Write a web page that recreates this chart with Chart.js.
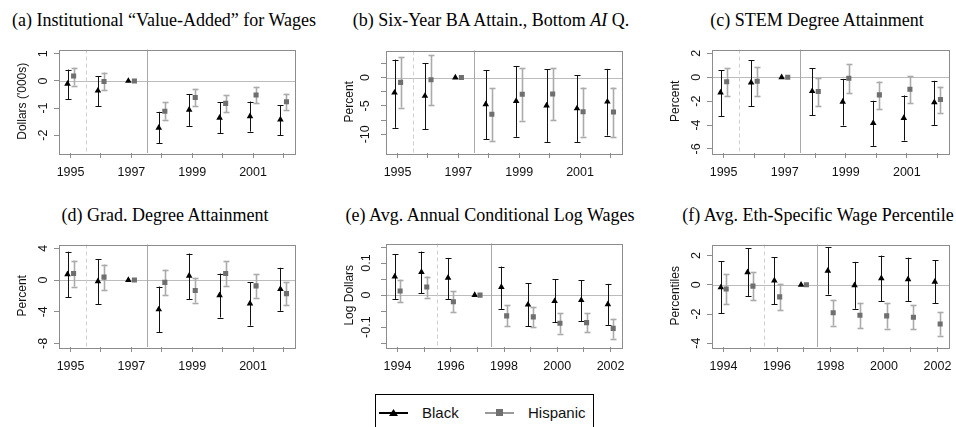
<!DOCTYPE html>
<html>
<head>
<meta charset="utf-8">
<script src="https://cdn.jsdelivr.net/npm/chart.js@4.4.1/dist/chart.umd.min.js"></script>
<style>
  body { margin: 0; width: 956px; height: 427px; overflow: hidden; background: #fff; position: relative; }
  canvas { position: absolute; }
  .ttl { position: absolute; font: 18px "Liberation Serif", "Times New Roman", serif; line-height: 20px;
         white-space: nowrap; transform: translateX(-50%); color: #000; }
  .lg { position: absolute; }
  .lg-txt { position: absolute; font: 15px "Liberation Sans", Arial, sans-serif; line-height: 18px; color: #111; }
</style>
</head>
<body>

<div class="ttl" style="left:164px;top:10px">(a) Institutional “Value-Added” for Wages</div>
<div class="ttl" style="left:491px;top:10px">(b) Six-Year BA Attain., Bottom <i>AI</i> Q.</div>
<div class="ttl" style="left:817px;top:10px">(c) STEM Degree Attainment</div>
<div class="ttl" style="left:165px;top:205px">(d) Grad. Degree Attainment</div>
<div class="ttl" style="left:490px;top:205px">(e) Avg. Annual Conditional Log Wages</div>
<div class="ttl" style="left:818px;top:205px">(f) Avg. Eth-Specific Wage Percentile</div>

<canvas id="pa"></canvas>
<canvas id="pb"></canvas>
<canvas id="pc"></canvas>
<canvas id="pd"></canvas>
<canvas id="pe"></canvas>
<canvas id="pf"></canvas>

<!-- legend -->
<div class="lg" style="left:375px;top:394px;width:217px;height:44px;border:1.5px solid #000"></div>
<div class="lg" style="left:379px;top:412px;width:29px;height:1.5px;background:#000"></div>
<div class="lg" style="left:389px;top:409px;width:9px;height:7px;background:#000;clip-path:polygon(50% 0,100% 100%,0 100%)"></div>
<span class="lg-txt" style="left:422px;top:404px">Black</span>
<div class="lg" style="left:485px;top:412px;width:29px;height:1.5px;background:#9a9a9a"></div>
<div class="lg" style="left:496px;top:409px;width:7px;height:7px;background:#707070"></div>
<span class="lg-txt" style="left:528px;top:404px">Hispanic</span>

<script>
// years and tick labels
const yearsAD = [1995, 1996, 1997, 1998, 1999, 2000, 2001, 2002];
const yearsEF = [1994, 1995, 1996, 1997, 1998, 1999, 2000, 2001, 2002];
const xLabelsAD = ["1995", "", "1997", "", "1999", "", "2001", ""];
const xLabelsEF = ["1994", "", "1996", "", "1998", "", "2000", "", "2002"];

// (a) value-added for wages
const aBlack   = [-0.11, -0.36, 0, -1.73, -1.07, -1.36, -1.31, -1.43];
const aBlackLo = [-0.68, -0.94, null, -2.30, -1.66, -1.94, -1.87, -2.00];
const aBlackHi = [0.42, 0.18, null, -1.14, -0.49, -0.78, -0.76, -0.90];
const aHisp    = [0.18, -0.02, 0, -1.12, -0.61, -0.83, -0.52, -0.77];
const aHispLo  = [-0.17, -0.34, null, -1.43, -0.94, -1.15, -0.82, -1.07];
const aHispHi  = [0.49, 0.31, null, -0.79, -0.29, -0.52, -0.22, -0.47];
const aTicks = [-2, -1, 0, 1];
const aTickLabels = ["-2", "-1", "0", "1"];
const aRange = [-2.66, 1.16];

// (b) six-year BA attainment
const bBlack   = [-2.67, -3.24, 0, -4.72, -4.15, -4.94, -5.45, -4.26];
const bBlackLo = [-8.86, -9.09, null, -10.85, -10.45, -11.36, -11.36, -10.23];
const bBlackHi = [3.18, 2.56, null, 1.31, 2.05, 1.48, 0.40, 1.53];
const bHisp    = [-0.85, -0.40, 0, -6.48, -2.95, -2.90, -6.02, -6.08];
const bHispLo  = [-5.28, -4.89, null, -11.2, -7.6, -7.5, -10.4, -10.45];
const bHispHi  = [3.58, 3.98, null, -1.88, 1.65, 1.70, -1.76, -1.76];
const bTicks = [-10, -7.5, -5, -2.5, 0, 2.5];
const bTickLabels = ["-10", "", "-5", "", "0", ""];
const bRange = [-13.3, 4.77];

// (c) STEM degree
const cBlack   = [-1.28, -0.44, 0, -1.17, -2.05, -3.83, -3.42, -2.10];
const cBlackLo = [-3.25, -2.43, null, -3.17, -4.04, -5.74, -5.30, -3.99];
const cBlackHi = [0.60, 1.42, null, 0.77, -0.14, -1.97, -1.53, -0.30];
const cHisp    = [-0.38, -0.33, 0, -1.20, -0.08, -1.48, -1.01, -1.86];
const cHispLo  = [-1.61, -1.56, null, -2.43, -1.34, -2.65, -2.16, -2.98];
const cHispHi  = [0.77, 0.82, null, -0.05, 1.07, -0.36, 0.11, -0.79];
const cTicks = [-6, -4, -2, 0, 2];
const cTickLabels = ["-6", "-4", "-2", "0", "2"];
const cRange = [-6.34, 2.32];

// (d) grad degree
const dBlack   = [0.73, -0.16, 0, -3.71, 0.53, -1.92, -2.98, -1.14];
const dBlackLo = [-2.16, -3.06, null, -6.61, -2.45, -4.73, -5.76, -3.88];
const dBlackHi = [3.59, 2.65, null, -0.82, 3.35, 0.82, -0.29, 1.55];
const dHisp    = [0.82, 0.37, 0, -0.29, -1.31, 0.82, -0.73, -1.71];
const dHispLo  = [-0.82, -1.31, null, -1.92, -2.86, -0.73, -2.24, -3.18];
const dHispHi  = [2.45, 1.96, null, 1.31, 0.29, 2.37, 0.73, -0.29];
const dTicks = [-8, -4, 0, 4];
const dTickLabels = ["-8", "-4", "0", "4"];
const dRange = [-8.45, 4.49];

// (e) log wages
const eBlack   = [0.058, 0.072, 0.054, 0, 0.025, -0.030, -0.019, -0.016, -0.029];
const eBlackLo = [-0.012, 0.005, -0.012, null, -0.043, -0.098, -0.085, -0.081, -0.093];
const eBlackHi = [0.128, 0.136, 0.116, null, 0.089, 0.037, 0.049, 0.046, 0.035];
const eHisp    = [0.013, 0.025, -0.021, 0, -0.065, -0.068, -0.088, -0.086, -0.104];
const eHispLo  = [-0.023, -0.008, -0.054, null, -0.098, -0.101, -0.120, -0.116, -0.136];
const eHispHi  = [0.048, 0.058, 0.012, null, -0.032, -0.037, -0.056, -0.056, -0.074];
const eTicks = [-0.15, -0.1, -0.05, 0, 0.05, 0.1, 0.15];
const eTickLabels = ["", "-0.1", "", "0", "", "0.1", ""];
const eRange = [-0.162, 0.161];

// (f) wage percentile
const fBlack   = [-0.18, 0.85, 0.29, 0, 0.96, -0.04, 0.45, 0.38, 0.20];
const fBlackLo = [-1.95, -0.78, -1.32, null, -0.67, -1.64, -1.12, -1.14, -1.28];
const fBlackHi = [1.61, 2.51, 1.88, null, 2.56, 1.57, 2.00, 1.86, 1.68];
const fHisp    = [-0.29, -0.09, -0.83, 0, -1.91, -2.09, -2.13, -2.22, -2.69];
const fHispLo  = [-1.32, -1.05, -1.75, null, -2.80, -2.96, -3.00, -3.03, -3.48];
const fHispHi  = [0.74, 0.85, 0.07, null, -1.03, -1.23, -1.28, -1.39, -1.88];
const fTicks = [-4, -2, 0, 2];
const fTickLabels = ["-4", "-2", "0", "2"];
const fRange = [-4.26, 2.76];

const xRangeAD = [1994.62, 2002.38];
const xRangeEF = [1993.57, 2002.43];

const SANS = '"Liberation Sans", Arial, sans-serif';
const AXW = 50, AXH = 30, PADT = 10, PADR = 20;

function drawLine(ctx, x1, y1, x2, y2) {
  ctx.beginPath();
  ctx.moveTo(x1, y1);
  ctx.lineTo(x2, y2);
  ctx.stroke();
}

function makePanel(id, box, p) {
  const [L, T, R, B] = box;
  const cv = document.getElementById(id);
  cv.width = R - L + AXW + PADR;
  cv.height = B - T + PADT + AXH;
  cv.style.left = (L - AXW) + "px";
  cv.style.top = (T - PADT) + "px";

  const guides = {
    id: "guides",
    beforeDatasetsDraw(chart) {
      const { ctx, chartArea: a, scales: { x, y } } = chart;
      ctx.save();
      ctx.lineWidth = 1;
      // zero line
      const y0 = Math.round(y.getPixelForValue(0)) + 0.5;
      ctx.strokeStyle = "#bcbcbc";
      drawLine(ctx, a.left, y0, a.right, y0);
      // solid break line
      const xs = Math.round(x.getPixelForValue(1997.5)) + 0.5;
      ctx.strokeStyle = "#a8a8a8";
      drawLine(ctx, xs, a.top, xs, a.bottom);
      // dashed line
      const xd = Math.round(x.getPixelForValue(1995.5)) + 0.5;
      ctx.strokeStyle = "#cfcfcf";
      ctx.setLineDash([4, 3]);
      drawLine(ctx, xd, a.top, xd, a.bottom);
      ctx.setLineDash([]);

      // error bars
      const bars = (off, lo, hi, color, w, cap) => {
        ctx.strokeStyle = color;
        ctx.lineWidth = w;
        p.years.forEach((yr, i) => {
          if (lo[i] == null) return;
          const px = Math.round(x.getPixelForValue(yr + off)) + 0.5;
          const pl = y.getPixelForValue(lo[i]);
          const ph = y.getPixelForValue(hi[i]);
          drawLine(ctx, px, pl, px, ph);
          drawLine(ctx, px - cap, Math.round(pl) + 0.5, px + cap, Math.round(pl) + 0.5);
          drawLine(ctx, px - cap, Math.round(ph) + 0.5, px + cap, Math.round(ph) + 0.5);
        });
      };
      bars(0.1, p.hispLo, p.hispHi, "#ababab", 1.6, 3);
      bars(-0.1, p.blackLo, p.blackHi, "#111", 1, 3);
      ctx.restore();
    },
    afterDraw(chart) {
      const { ctx, chartArea: a } = chart;
      ctx.save();
      ctx.strokeStyle = "#8c8c8c";
      ctx.lineWidth = 1;
      ctx.strokeRect(Math.round(a.left) + 0.5, Math.round(a.top) + 0.5,
        Math.round(a.right - a.left), Math.round(a.bottom - a.top));
      ctx.restore();
    }
  };

  new Chart(cv, {
    type: "scatter",
    data: {
      datasets: [
        {
          label: "Hispanic",
          data: p.years.map((yr, i) => ({ x: yr + 0.1, y: p.hisp[i] })),
          pointStyle: "rect",
          pointRadius: 3.6,
          backgroundColor: "#6f6f6f",
          borderWidth: 0,
        },
        {
          label: "Black",
          data: p.years.map((yr, i) => ({ x: yr - 0.1, y: p.black[i] })),
          pointStyle: "triangle",
          pointRadius: 3.8,
          backgroundColor: "#000",
          borderWidth: 0,
        },
      ],
    },
    options: {
      responsive: false,
      animation: false,
      devicePixelRatio: 1,
      layout: { padding: { top: PADT, right: PADR, left: 0, bottom: 0 } },
      plugins: { legend: { display: false }, tooltip: { enabled: false } },
      scales: {
        x: {
          type: "linear",
          min: p.xRange[0],
          max: p.xRange[1],
          afterBuildTicks: (s) => { s.ticks = p.years.map((v) => ({ value: v })); },
          afterFit: (s) => { s.height = AXH; },
          border: { display: false },
          grid: { drawOnChartArea: false, drawTicks: true, tickLength: 5, tickColor: "#8c8c8c" },
          ticks: {
            autoSkip: false, maxRotation: 0, padding: 7, color: "#111",
            font: { family: SANS, size: 12.5 },
            callback: (v, i) => p.xLabels[i],
          },
        },
        y: {
          min: p.yRange[0],
          max: p.yRange[1],
          afterBuildTicks: (s) => { s.ticks = p.yTicks.map((v) => ({ value: v })); },
          afterFit: (s) => { s.width = AXW; },
          border: { display: false },
          grid: { drawOnChartArea: false, drawTicks: true, tickLength: 5, tickColor: "#8c8c8c" },
          ticks: {
            autoSkip: false, minRotation: 90, maxRotation: 90, crossAlign: "center",
            padding: p.tickPad, color: "#111",
            font: { family: SANS, size: 12.5 },
            callback: (v, i) => p.yLabels[i],
          },
          title: {
            display: true, text: p.yTitle, color: "#111",
            padding: { top: 6, bottom: 0 },
            font: { family: SANS, size: 12 },
          },
        },
      },
    },
    plugins: [guides],
  });
}

makePanel("pa", [59, 47, 295, 153], {
  years: yearsAD, xLabels: xLabelsAD, xRange: xRangeAD, yRange: aRange,
  yTicks: aTicks, yLabels: aTickLabels, yTitle: "Dollars ('000s)", tickPad: 5,
  black: aBlack, blackLo: aBlackLo, blackHi: aBlackHi, hisp: aHisp, hispLo: aHispLo, hispHi: aHispHi,
});
makePanel("pb", [386, 47, 622, 153], {
  years: yearsAD, xLabels: xLabelsAD, xRange: xRangeAD, yRange: bRange,
  yTicks: bTicks, yLabels: bTickLabels, yTitle: "Percent", tickPad: 6,
  black: bBlack, blackLo: bBlackLo, blackHi: bBlackHi, hisp: bHisp, hispLo: bHispLo, hispHi: bHispHi,
});
makePanel("pc", [712, 47, 949, 153], {
  years: yearsAD, xLabels: xLabelsAD, xRange: xRangeAD, yRange: cRange,
  yTicks: cTicks, yLabels: cTickLabels, yTitle: "Percent", tickPad: 5,
  black: cBlack, blackLo: cBlackLo, blackHi: cBlackHi, hisp: cHisp, hispLo: cHispLo, hispHi: cHispHi,
});
makePanel("pd", [59, 242, 295, 347], {
  years: yearsAD, xLabels: xLabelsAD, xRange: xRangeAD, yRange: dRange,
  yTicks: dTicks, yLabels: dTickLabels, yTitle: "Percent", tickPad: 5,
  black: dBlack, blackLo: dBlackLo, blackHi: dBlackHi, hisp: dHisp, hispLo: dHispLo, hispHi: dHispHi,
});
makePanel("pe", [386, 242, 622, 347], {
  years: yearsEF, xLabels: xLabelsEF, xRange: xRangeEF, yRange: eRange,
  yTicks: eTicks, yLabels: eTickLabels, yTitle: "Log Dollars", tickPad: 4,
  black: eBlack, blackLo: eBlackLo, blackHi: eBlackHi, hisp: eHisp, hispLo: eHispLo, hispHi: eHispHi,
});
makePanel("pf", [712, 242, 949, 347], {
  years: yearsEF, xLabels: xLabelsEF, xRange: xRangeEF, yRange: fRange,
  yTicks: fTicks, yLabels: fTickLabels, yTitle: "Percentiles", tickPad: 5,
  black: fBlack, blackLo: fBlackLo, blackHi: fBlackHi, hisp: fHisp, hispLo: fHispLo, hispHi: fHispHi,
});
</script>
</body>
</html>
